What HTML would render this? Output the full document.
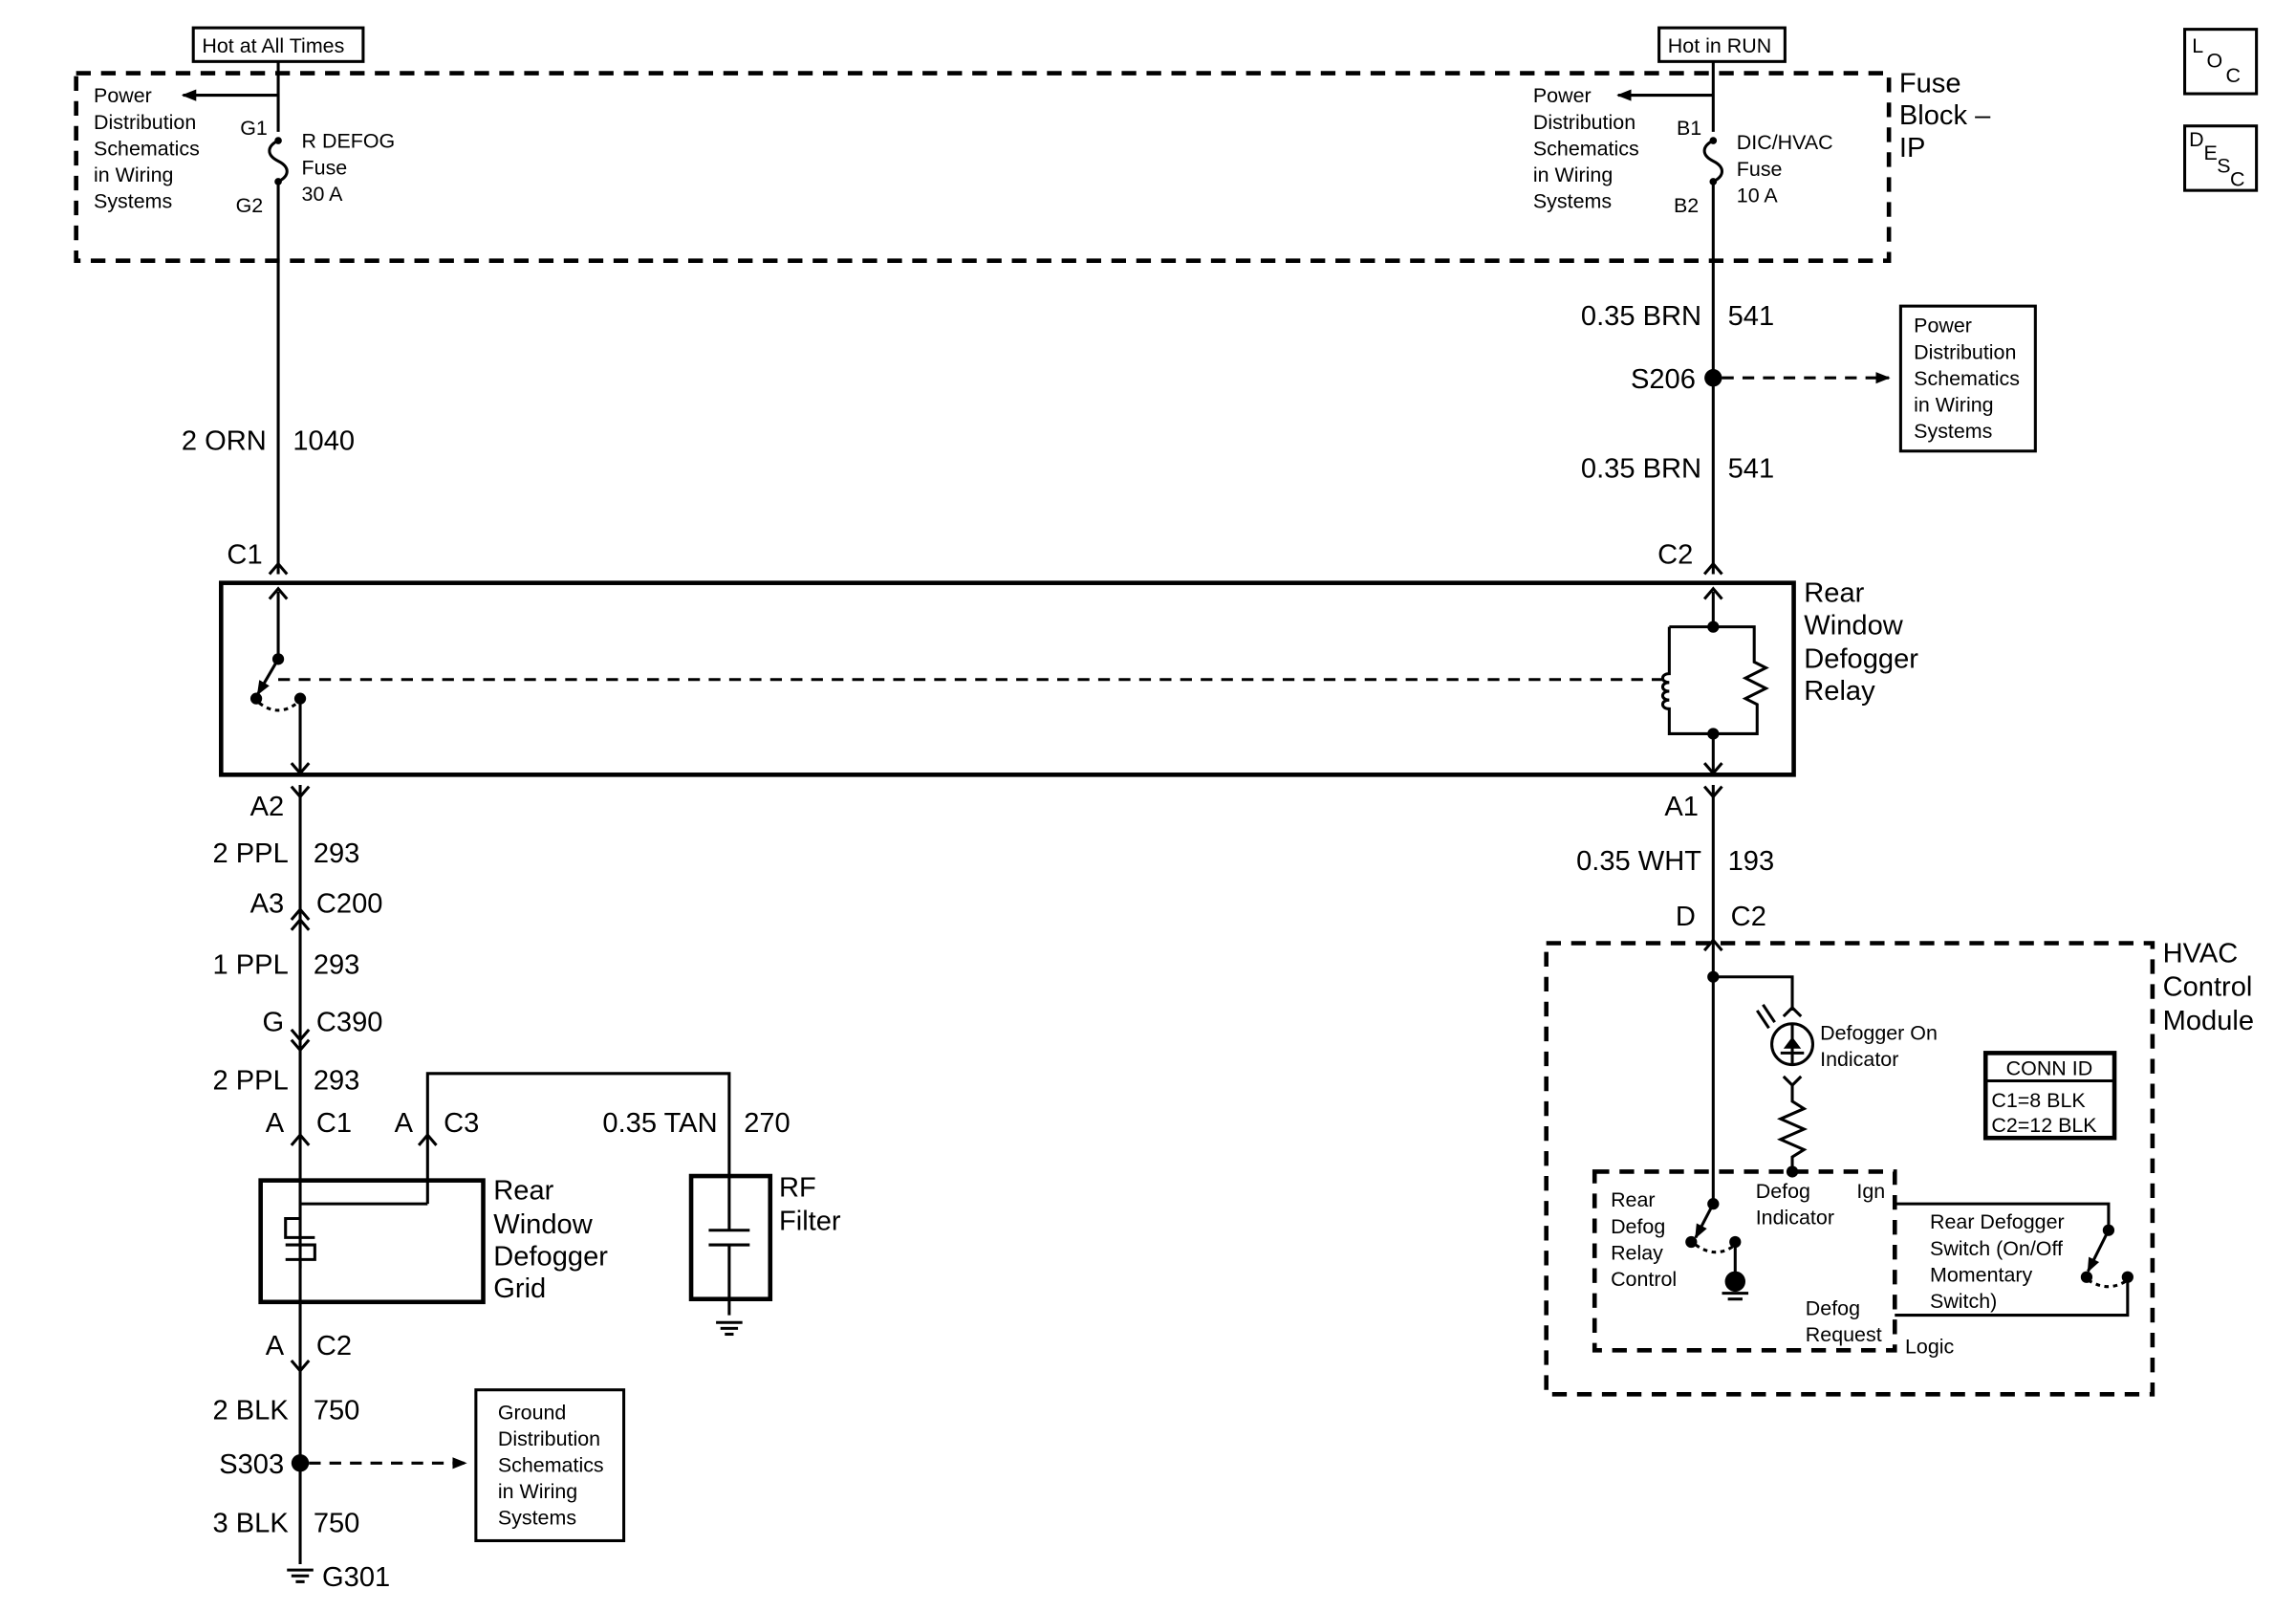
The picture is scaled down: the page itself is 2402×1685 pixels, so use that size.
<!DOCTYPE html>
<html><head><meta charset="utf-8"><style>
html,body{margin:0;padding:0;background:#fff;}
svg{display:block;}
text{font-family:"Liberation Sans",sans-serif;fill:#000;}
.s{font-size:14px;}
.l{font-size:19px;}
</style></head><body>
<svg width="2402" height="1685" viewBox="0 0 1568 1100" preserveAspectRatio="none" xmlns="http://www.w3.org/2000/svg">
<defs>
<marker id="ah" markerWidth="10" markerHeight="10" refX="9" refY="5" orient="auto" markerUnits="userSpaceOnUse"><path d="M0,1 L10,5 L0,9 Z" fill="#000"/></marker>
</defs>
<g stroke="#000" stroke-width="2" fill="none">
<rect x="132" y="19" width="116" height="23"/>
<rect x="1133" y="19" width="86" height="23"/>
<rect x="52" y="50" width="1238" height="128" stroke-width="3" stroke-dasharray="10,7"/>
<rect x="1492" y="20" width="49" height="44"/>
<rect x="1492" y="86" width="49" height="44"/>
<line x1="190" y1="42" x2="190" y2="90"/>
<line x1="190" y1="65" x2="125" y2="65" marker-end="url(#ah)"/>
<path d="M190,96 c-8,4 -8,10 0,14 c8,4 8,10 0,14"/>
<line x1="190" y1="124" x2="190" y2="392"/>
<line x1="1170" y1="42" x2="1170" y2="90"/>
<line x1="1170" y1="65" x2="1105" y2="65" marker-end="url(#ah)"/>
<path d="M1170,96 c-8,4 -8,10 0,14 c8,4 8,10 0,14"/>
<line x1="1170" y1="124" x2="1170" y2="392"/>
<line x1="1176" y1="258" x2="1290" y2="258" stroke-dasharray="8,6" marker-end="url(#ah)"/>
<rect x="1298" y="209" width="92" height="99"/>
<path d="M184,392 L190,385 L196,392"/>
<path d="M1164,392 L1170,385 L1176,392"/>
<rect x="151" y="398" width="1074" height="131" stroke-width="3"/>
<line x1="190" y1="404" x2="190" y2="450"/>
<path d="M184,409 L190,402 L196,409"/>
<line x1="190" y1="450" x2="176" y2="474" marker-end="url(#ah)"/>
<path d="M177,480 Q190,490 203,480" stroke-dasharray="3,3"/>
<line x1="205" y1="477" x2="205" y2="528"/>
<path d="M199,521 L205,528 L211,521"/>
<line x1="190" y1="464" x2="1136" y2="464" stroke-dasharray="8,6"/>
<line x1="1170" y1="404" x2="1170" y2="428"/>
<path d="M1164,409 L1170,402 L1176,409"/>
<path d="M1140,428 H1198 V452 l8,4 -14,7 14,7 -14,7 8,4 V501 H1140 V484 c-6,0 -6,-6 0,-6 c-6,0 -6,-6 0,-6 c-6,0 -6,-6 0,-6 c-6,0 -6,-6 0,-6 V428"/>
<line x1="1170" y1="501" x2="1170" y2="528"/>
<path d="M1164,521 L1170,528 L1176,521"/>
<line x1="205" y1="536" x2="205" y2="1068"/>
<path d="M199,537 L205,544 L211,537"/>
<path d="M199,635 L205,628 L211,635"/><path d="M199,628 L205,621 L211,628"/>
<path d="M199,703 L205,710 L211,703"/><path d="M199,710 L205,717 L211,710"/>
<path d="M199,782 L205,775 L211,782"/>
<path d="M286,782 L292,775 L298,782"/>
<path d="M199,929 L205,936 L211,929"/>
<path d="M292,822 V733 H498 V803"/>
<line x1="205" y1="822" x2="292" y2="822"/>
<rect x="178" y="806" width="152" height="83" stroke-width="3"/>
<path d="M205,832 H195 V845 H215 M195,850 H215 V860 H195 M205,860 V866" />
<rect x="472" y="803" width="54" height="84" stroke-width="3"/>
<line x1="498" y1="803" x2="498" y2="840"/>
<line x1="484" y1="840" x2="512" y2="840"/>
<line x1="484" y1="850" x2="512" y2="850"/>
<line x1="498" y1="850" x2="498" y2="898"/>
<line x1="489" y1="903" x2="507" y2="903"/><line x1="492" y1="907" x2="504" y2="907"/><line x1="495" y1="911" x2="501" y2="911"/>
<line x1="211" y1="999" x2="318" y2="999" stroke-dasharray="8,6" marker-end="url(#ah)"/>
<rect x="325" y="949" width="101" height="103"/>
<line x1="196" y1="1072" x2="214" y2="1072"/><line x1="199" y1="1076" x2="211" y2="1076"/><line x1="202" y1="1080" x2="208" y2="1080"/>
<line x1="1170" y1="536" x2="1170" y2="822"/>
<path d="M1164,537 L1170,544 L1176,537"/>
<path d="M1164,649 L1170,642 L1176,649"/>
<rect x="1056" y="644" width="414" height="308" stroke-width="3" stroke-dasharray="10,7"/>
<path d="M1170,667 H1224 V690"/>
<path d="M1218,694 L1224,688 L1230,694"/>
<circle cx="1224" cy="713" r="14"/>
<line x1="1224" y1="699" x2="1224" y2="727"/>
<line x1="1216" y1="719" x2="1232" y2="719"/>
<line x1="1208" y1="702" x2="1200" y2="690"/><line x1="1212" y1="698" x2="1204" y2="686"/>
<path d="M1218,735 L1224,741 L1230,735"/>
<path d="M1224,741 V752 l8,5 -16,7 16,7 -16,7 16,7 -8,5 V800"/>
<rect x="1356" y="719" width="88" height="58" stroke-width="3"/>
<line x1="1356" y1="738" x2="1444" y2="738"/>
<rect x="1089" y="800" width="205" height="122" stroke-width="3" stroke-dasharray="10,7"/>
<line x1="1170" y1="822" x2="1158" y2="845" marker-end="url(#ah)"/>
<path d="M1158,850 Q1172,860 1185,850" stroke-dasharray="3,3"/>
<line x1="1185" y1="848" x2="1185" y2="870"/>
<line x1="1176" y1="883" x2="1194" y2="883"/><line x1="1180" y1="887" x2="1190" y2="887"/>
<path d="M1294,822 H1440 V840"/>
<line x1="1440" y1="840" x2="1426" y2="868" marker-end="url(#ah)"/>
<path d="M1426,874 Q1440,883 1453,874" stroke-dasharray="3,3"/>
<path d="M1453,872 V898 H1294"/>
</g>
<g fill="#000">
<circle cx="190" cy="96" r="2.5"/><circle cx="190" cy="124" r="2.5"/>
<circle cx="1170" cy="96" r="2.5"/><circle cx="1170" cy="124" r="2.5"/>
<circle cx="1170" cy="258" r="6"/>
<circle cx="190" cy="450" r="4"/><circle cx="175" cy="477" r="4"/><circle cx="205" cy="477" r="4"/>
<circle cx="1170" cy="428" r="4"/><circle cx="1170" cy="501" r="4"/>
<circle cx="205" cy="999" r="6"/>
<circle cx="1170" cy="667" r="4"/><circle cx="1224" cy="800" r="4"/>
<circle cx="1170" cy="822" r="4"/><circle cx="1155" cy="848" r="4"/><circle cx="1185" cy="848" r="4"/>
<circle cx="1185" cy="875" r="7"/>
<circle cx="1440" cy="840" r="4"/><circle cx="1425" cy="872" r="4"/><circle cx="1453" cy="872" r="4"/>
<path d="M1218,716 L1230,716 L1224,708 Z"/>
</g>
<g class="s">
<text x="138" y="36">Hot at All Times</text>
<text x="1139" y="36">Hot in RUN</text>
<text x="64" y="70">Power</text><text x="64" y="88">Distribution</text><text x="64" y="106">Schematics</text><text x="64" y="124">in Wiring</text><text x="64" y="142">Systems</text>
<text x="1047" y="70">Power</text><text x="1047" y="88">Distribution</text><text x="1047" y="106">Schematics</text><text x="1047" y="124">in Wiring</text><text x="1047" y="142">Systems</text>
<text x="164" y="92">G1</text><text x="161" y="145">G2</text>
<text x="206" y="101">R DEFOG</text><text x="206" y="119">Fuse</text><text x="206" y="137">30 A</text>
<text x="1145" y="92">B1</text><text x="1143" y="145">B2</text>
<text x="1186" y="102">DIC/HVAC</text><text x="1186" y="120">Fuse</text><text x="1186" y="138">10 A</text>
<text x="1307" y="227">Power</text><text x="1307" y="245">Distribution</text><text x="1307" y="263">Schematics</text><text x="1307" y="281">in Wiring</text><text x="1307" y="299">Systems</text>
<text x="340" y="969">Ground</text><text x="340" y="987">Distribution</text><text x="340" y="1005">Schematics</text><text x="340" y="1023">in Wiring</text><text x="340" y="1041">Systems</text>
<text x="1243" y="710">Defogger On</text><text x="1243" y="728">Indicator</text>
<text x="1370" y="734">CONN ID</text><text x="1360" y="756">C1=8 BLK</text><text x="1360" y="773">C2=12 BLK</text>
<text x="1100" y="824">Rear</text><text x="1100" y="842">Defog</text><text x="1100" y="860">Relay</text><text x="1100" y="878">Control</text>
<text x="1199" y="818">Defog</text><text x="1199" y="836">Indicator</text><text x="1268" y="818">Ign</text>
<text x="1233" y="898">Defog</text><text x="1233" y="916">Request</text><text x="1301" y="924">Logic</text>
<text x="1318" y="839">Rear Defogger</text><text x="1318" y="857">Switch (On/Off</text><text x="1318" y="875">Momentary</text><text x="1318" y="893">Switch)</text>
<text x="1497" y="36">L</text><text x="1507" y="46">O</text><text x="1520" y="56">C</text>
<text x="1495" y="100">D</text><text x="1505" y="109">E</text><text x="1514" y="118">S</text><text x="1523" y="127">C</text>
</g>
<g class="l">
<text x="1297" y="63">Fuse</text><text x="1297" y="85">Block –</text><text x="1297" y="107">IP</text>
<text x="182" y="307" text-anchor="end">2 ORN</text><text x="200" y="307">1040</text>
<text x="1162" y="222" text-anchor="end">0.35 BRN</text><text x="1180" y="222">541</text>
<text x="1158" y="265" text-anchor="end">S206</text>
<text x="1162" y="326" text-anchor="end">0.35 BRN</text><text x="1180" y="326">541</text>
<text x="155" y="385">C1</text><text x="1132" y="385">C2</text>
<text x="1232" y="411">Rear</text><text x="1232" y="433">Window</text><text x="1232" y="456">Defogger</text><text x="1232" y="478">Relay</text>
<text x="194" y="557" text-anchor="end">A2</text>
<text x="197" y="589" text-anchor="end">2 PPL</text><text x="214" y="589">293</text>
<text x="194" y="623" text-anchor="end">A3</text><text x="216" y="623">C200</text>
<text x="197" y="665" text-anchor="end">1 PPL</text><text x="214" y="665">293</text>
<text x="194" y="704" text-anchor="end">G</text><text x="216" y="704">C390</text>
<text x="197" y="744" text-anchor="end">2 PPL</text><text x="214" y="744">293</text>
<text x="194" y="773" text-anchor="end">A</text><text x="216" y="773">C1</text>
<text x="282" y="773" text-anchor="end">A</text><text x="303" y="773">C3</text>
<text x="490" y="773" text-anchor="end">0.35 TAN</text><text x="508" y="773">270</text>
<text x="337" y="819">Rear</text><text x="337" y="842">Window</text><text x="337" y="864">Defogger</text><text x="337" y="886">Grid</text>
<text x="532" y="817">RF</text><text x="532" y="840">Filter</text>
<text x="194" y="925" text-anchor="end">A</text><text x="216" y="925">C2</text>
<text x="197" y="969" text-anchor="end">2 BLK</text><text x="214" y="969">750</text>
<text x="194" y="1006" text-anchor="end">S303</text>
<text x="197" y="1046" text-anchor="end">3 BLK</text><text x="214" y="1046">750</text>
<text x="220" y="1083">G301</text>
<text x="1160" y="557" text-anchor="end">A1</text>
<text x="1162" y="594" text-anchor="end">0.35 WHT</text><text x="1180" y="594">193</text>
<text x="1158" y="632" text-anchor="end">D</text><text x="1182" y="632">C2</text>
<text x="1477" y="657">HVAC</text><text x="1477" y="680">Control</text><text x="1477" y="703">Module</text>
</g>
</svg>
</body></html>
